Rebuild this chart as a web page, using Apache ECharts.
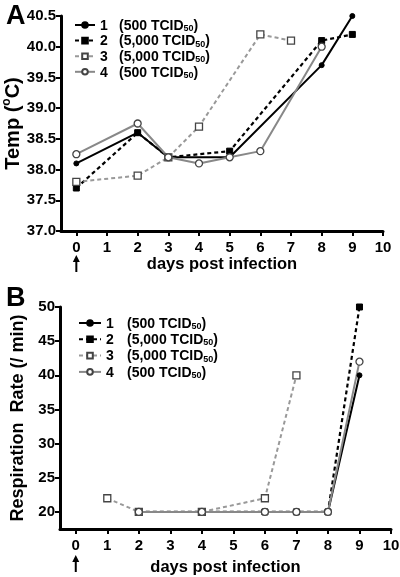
<!DOCTYPE html>
<html><head><meta charset="utf-8">
<script src="https://cdn.jsdelivr.net/npm/echarts@6/dist/echarts.min.js"></script>
<style>html,body{margin:0;padding:0;background:#fff}#c{width:400px;height:577px}</style>
</head><body><div id="c"></div>
<script>
// ---- data ----
const seriesNames = ['1', '2', '3', '4'];
const doses = ['500', '5,000', '5,000', '500'];
const dayTicks = [0,1,2,3,4,5,6,7,8,9,10];
const respTicks = [20,25,30,35,40,45,50];

const tempDays1 = [0,2,3,5,8,9];     const temp1 = [38.1,38.6,38.2,38.2,39.7,40.5];
const tempDays2 = [0,2,3,5,8,9];     const temp2 = [37.7,38.6,38.2,38.3,40.1,40.2];
const tempDays3 = [0,2,3,4,6,7];     const temp3 = [37.8,37.9,38.2,38.7,40.2,40.1];
const tempDays4 = [0,2,3,4,5,6,8];   const temp4 = [38.25,38.75,38.2,38.1,38.2,38.3,40.0];

const respDays1 = [2,4,6,7,8,9];     const resp1 = [20,20,20,20,20,40];
const respDays2 = [2,4,6,7,8,9];     const resp2 = [20,20,20,20,20,50];
const respDays3 = [1,2,4,6,7];       const resp3 = [22,20,20,22,40];
const respDays4 = [2,4,6,7,8,9];     const resp4 = [20,20,20,20,20,42];

const pairs = (xs, ys) => xs.map((x, i) => [x, ys[i]]);

const FONT = "'Liberation Sans', Arial, sans-serif";
const styles = [
  {color:'#000', line:{color:'#000', width:2, type:'solid'}, symbol:'circle', size:5, item:{color:'#000', borderColor:'#000', borderWidth:1}},
  {color:'#000', line:{color:'#000', width:2.2, type:[4,3]}, symbol:'rect', size:6, item:{color:'#000', borderColor:'#000', borderWidth:1}},
  {color:'#999', line:{color:'#999', width:2, type:[4,3]}, symbol:'rect', size:7, item:{color:'#fff', borderColor:'#444', borderWidth:1.3}},
  {color:'#888', line:{color:'#888', width:2, type:'solid'}, symbol:'circle', size:7, item:{color:'#fff', borderColor:'#444', borderWidth:1.3}}
];

function mkSeries(idx, data, axis) {
  const s = styles[idx];
  return {
    type:'line', name: seriesNames[idx], xAxisIndex: axis, yAxisIndex: axis,
    data, symbol: s.symbol, symbolSize: s.size, showAllSymbol: true,
    lineStyle: s.line, itemStyle: s.item, color: s.color, animation:false,
    emphasis:{disabled:true}
  };
}

const axisCommon = {
  axisLine:{show:true, onZero:false, lineStyle:{color:'#000', width:3}},
  axisTick:{show:true, length:5, lineStyle:{color:'#000', width:2}},
  splitLine:{show:false},
  axisLabel:{color:'#000', fontFamily:FONT, fontWeight:'bold', fontSize:15}
};

function xAx(gridIndex, gap) {
  return {
    type:'value', gridIndex, min:-0.5, max:10,
    axisLine: axisCommon.axisLine, splitLine:{show:false},
    axisTick: Object.assign({}, axisCommon.axisTick, {customValues: dayTicks}),
    axisLabel: Object.assign({}, axisCommon.axisLabel, {customValues: dayTicks, margin:9}),
    name:'days post infection', nameLocation:'middle', nameGap: gap, nameMoveOverlap:false,
    nameTextStyle:{color:'#000', fontFamily:FONT, fontWeight:'bold', fontSize:16.5}
  };
}

function legendFmt(name) {
  const i = seriesNames.indexOf(name);
  return `{n|${name}}{t|(${doses[i]} TCID}{s|50}{t|)}`;
}
function legendRich(nw) {
  return {
    n:{width:nw, fontFamily:FONT, fontWeight:'bold', fontSize:14, lineHeight:16, verticalAlign:'bottom'},
    t:{fontFamily:FONT, fontWeight:'bold', fontSize:14, lineHeight:16, verticalAlign:'bottom'},
    s:{fontFamily:FONT, fontWeight:'bold', fontSize:9, lineHeight:8, verticalAlign:'bottom'}
  };
}

const chart = echarts.init(document.getElementById('c'), null, {renderer:'canvas'});
const option = {
  animation:false,
  backgroundColor:'#fff',
  title:[
    {text:'A', left:1, top:-2, textStyle:{fontFamily:FONT, fontWeight:'bold', fontSize:27, color:'#000'}},
    {text:'B', left:1, top:280, textStyle:{fontFamily:FONT, fontWeight:'bold', fontSize:27, color:'#000'}}
  ],
  grid:[
    {left:61, right:17, top:16, height:215, containLabel:false, outerBoundsMode:'none'},
    {left:60, right:9, top:307, height:222, containLabel:false, outerBoundsMode:'none'}
  ],
  xAxis:[xAx(0, 25), xAx(1, 30)],
  yAxis:[
    {type:'value', gridIndex:0, min:37, max:40.5, interval:0.5,
      axisLine:axisCommon.axisLine, axisTick:axisCommon.axisTick, splitLine:{show:false},
      axisLabel:Object.assign({}, axisCommon.axisLabel, {margin:5, formatter:v => v.toFixed(1)}),
      name:'Temp ({sup|o}C)', nameLocation:'middle', nameGap:36, nameRotate:90, nameMoveOverlap:false,
      nameTextStyle:{color:'#000', fontFamily:FONT, fontWeight:'bold', fontSize:20,
        rich:{sup:{fontFamily:FONT, fontWeight:'bold', fontSize:12, verticalAlign:'top', lineHeight:24}}}},
    {type:'value', gridIndex:1, min:17.5, max:50,
      axisLine:axisCommon.axisLine, splitLine:{show:false},
      axisTick:Object.assign({}, axisCommon.axisTick, {customValues: respTicks}),
      axisLabel:Object.assign({}, axisCommon.axisLabel, {margin:5, customValues: respTicks}),
      name:'Respiration  Rate (/ min)', nameLocation:'middle', nameGap:33, nameRotate:90, nameMoveOverlap:false,
      nameTextStyle:{color:'#000', fontFamily:FONT, fontWeight:'bold', fontSize:18}}
  ],
  legend:[
    {data:seriesNames, orient:'vertical', left:69, top:14, itemWidth:20, itemHeight:7, itemGap:1.6,
      formatter:legendFmt, selectedMode:false,
      textStyle:{color:'#000', rich:legendRich(19)}},
    {data:seriesNames, orient:'vertical', left:73, top:312, itemWidth:22, itemHeight:7, itemGap:2.3,
      formatter:legendFmt, selectedMode:false,
      textStyle:{color:'#000', rich:legendRich(21)}}
  ],
  series:[
    mkSeries(0, pairs(tempDays1, temp1), 0),
    mkSeries(1, pairs(tempDays2, temp2), 0),
    mkSeries(2, pairs(tempDays3, temp3), 0),
    mkSeries(3, pairs(tempDays4, temp4), 0),
    mkSeries(0, pairs(respDays1, resp1), 1),
    mkSeries(1, pairs(respDays2, resp2), 1),
    mkSeries(2, pairs(respDays3, resp3), 1),
    mkSeries(3, pairs(respDays4, resp4), 1)
  ]
};
chart.setOption(option);

// infection arrows below day 0 on both panels
function arrow(axisIdx, yMinVal, offTop, offBot) {
  const x = chart.convertToPixel({xAxisIndex:axisIdx}, 0);
  const y0 = chart.convertToPixel({yAxisIndex:axisIdx}, yMinVal);
  const top = y0 + offTop, bot = y0 + offBot;
  return [
    {type:'line', shape:{x1:x, y1:top+4, x2:x, y2:bot}, style:{stroke:'#000', lineWidth:2}},
    {type:'polygon', shape:{points:[[x, top], [x-3.5, top+7], [x+3.5, top+7]]}, style:{fill:'#000'}}
  ];
}
chart.setOption({graphic: arrow(0, 37, 24, 41).concat(arrow(1, 17.5, 26, 43))});
</script></body></html>
